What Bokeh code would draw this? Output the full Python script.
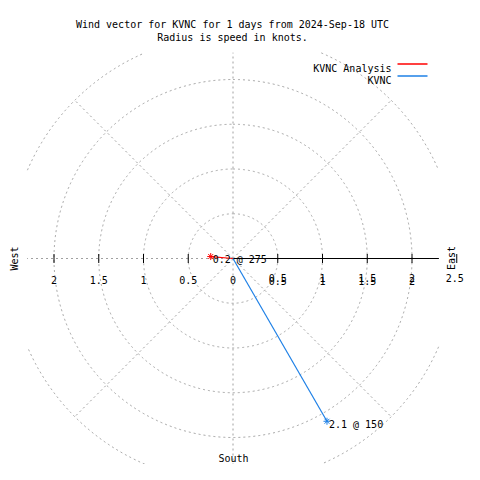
import numpy as np
from bokeh.plotting import figure
from bokeh.models import Range1d
from bokeh.core.properties import value
from bokeh.embed import file_html
from bokeh.resources import INLINE

# ---- data ----
series_names = ["KVNC Analysis", "KVNC"]
speeds = [0.25, 2.1]          # knots
directions = [275, 150]       # degrees (compass)
series_colors = ["#ff0000", "#1e80e6"]
r_ticks = [0.5, 1, 1.5, 2, 2.5]
spoke_angles = [0, 45, 90, 135, 180, 225, 270, 315]
title_lines = ["Wind vector for KVNC for 1 days from 2024-Sep-18 UTC",
               "Radius is speed in knots."]
compass_labels = ["West", "East", "South"]

# ---- layout helpers (picture pixel -> data units) ----
S = 89.5
CX, CY = 232.5, 258.0
W = H = 464
def ux(px):
    return (px - CX) / S
def uy(py):
    return (CY - py) / S

BOX = 2.3
FONT = value("DejaVu Sans Mono")
FS = "10px"
GRID = "#a0a0a0"

p = figure(width=W, height=H, x_range=Range1d(ux(0), ux(W)),
           y_range=Range1d(uy(H), uy(0)), output_backend="svg",
           toolbar_location=None, x_axis_type=None, y_axis_type=None,
           min_border=0, outline_line_color=None)
p.grid.visible = False

# grid circles, clipped to box
th = np.linspace(0, 2 * np.pi, 1441)
cxs, cys = [], []
for r in r_ticks:
    x = r * np.sin(th)
    y = r * np.cos(th)
    m = (np.abs(x) > BOX) | (np.abs(y) > BOX)
    x[m] = np.nan
    y[m] = np.nan
    cxs.append(x)
    cys.append(y)
p.multi_line(cxs, cys, line_color=GRID, line_width=1, line_dash="2 3")

# radial spokes
rmax = max(r_ticks)
x1, y1 = [], []
for a in spoke_angles:
    t = np.radians(a)
    s, c = np.sin(t), np.cos(t)
    L = rmax
    if abs(s) > 1e-9:
        L = min(L, BOX / abs(s))
    if abs(c) > 1e-9:
        L = min(L, BOX / abs(c))
    x1.append(L * s)
    y1.append(L * c)
p.segment(x0=[0] * len(x1), y0=[0] * len(y1), x1=x1, y1=y1,
          line_color=GRID, line_width=1, line_dash="2 3")

# r axis (solid, east side) and ticks
p.segment(x0=[0], y0=[0], x1=[BOX], y1=[0], line_color="black", line_width=1)
tick_x = list(r_ticks) + [-t for t in r_ticks[:-1]]
p.segment(x0=tick_x, y0=[-4.5 / S] * len(tick_x), x1=tick_x, y1=[4.5 / S] * len(tick_x),
          line_color="black", line_width=1)

def fmt(v):
    return f"{v:g}"

# tick labels
left_t = [-t for t in r_ticks[:-1]] + [0]
p.text(x=left_t, y=[0] * len(left_t), text=[fmt(abs(t)) for t in left_t],
       text_font=FONT, text_font_size=FS, text_align="center",
       text_baseline="alphabetic", y_offset=21, text_color="black")
right_t = r_ticks[:-1]
for off in (19, 22):
    p.text(x=right_t, y=[0] * len(right_t), text=[fmt(t) for t in right_t],
           text_font=FONT, text_font_size=FS, text_align="center",
           text_baseline="alphabetic", y_offset=off, text_color="black")
p.text(x=[r_ticks[-1]], y=[0], text=[fmt(r_ticks[-1])], text_font=FONT,
       text_font_size=FS, text_align="center", text_baseline="alphabetic",
       y_offset=19, x_offset=-2, text_color="black")

# data vectors
for name, spd, d, col in zip(series_names, speeds, directions, series_colors):
    t = np.radians(d)
    ex, ey = spd * np.sin(t), spd * np.cos(t)
    p.segment(x0=[0], y0=[0], x1=[ex], y1=[ey], line_color=col, line_width=1.2)
    p.scatter(x=[ex], y=[ey], marker="asterisk", size=7, line_color=col, line_width=1)
    p.text(x=[ex], y=[ey], text=[f"{spd:.1f} @ {d}"], text_font=FONT,
           text_font_size=FS, text_align="left", text_baseline="alphabetic",
           x_offset=2, y_offset=3, text_color="black")

# title
p.text(x=[ux(232)], y=[uy(24)], text=[title_lines[0]], text_font=FONT, text_font_size=FS,
       text_align="center", text_baseline="alphabetic", text_color="black")
p.text(x=[ux(232)], y=[uy(36.7)], text=[title_lines[1]], text_font=FONT, text_font_size=FS,
       text_align="center", text_baseline="alphabetic", text_color="black")

# legend
for i, (name, col) in enumerate(zip(series_names, series_colors)):
    ly = 63.5 + 12 * i
    p.text(x=[ux(391)], y=[uy(ly + 4)], text=[name], text_font=FONT, text_font_size=FS,
           text_align="right", text_baseline="alphabetic", text_color="black")
    p.segment(x0=[ux(397)], y0=[uy(ly)], x1=[ux(427)], y1=[uy(ly)], line_color=col, line_width=1.5)

# compass labels
p.text(x=[ux(14)], y=[uy(258)], text=[compass_labels[0]], angle=np.pi / 2,
       text_font=FONT, text_font_size=FS, text_align="center", text_baseline="middle",
       text_color="black")
p.text(x=[ux(451)], y=[uy(257.5)], text=[compass_labels[1]], angle=np.pi / 2,
       text_font=FONT, text_font_size=FS, text_align="center", text_baseline="middle",
       text_color="black")
p.text(x=[ux(233)], y=[uy(458)], text=[compass_labels[2]], text_font=FONT,
       text_font_size=FS, text_align="center", text_baseline="alphabetic",
       text_color="black")

open("out.html", "w").write(file_html(p, INLINE))
